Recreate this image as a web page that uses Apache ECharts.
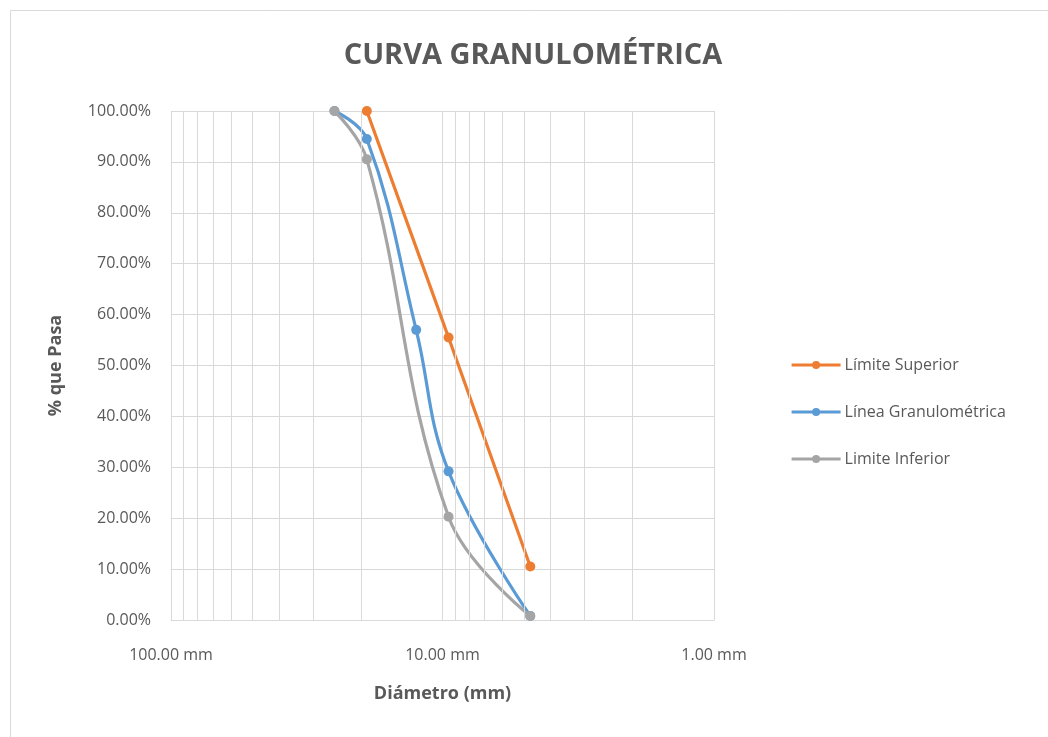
<!DOCTYPE html>
<html><head><meta charset="utf-8">
<script src="https://cdn.jsdelivr.net/npm/echarts@6/dist/echarts.min.js"></script>
<style>html,body{margin:0;padding:0;background:#fff}#c{width:1048px;height:737px}</style>
</head><body><div id="c"></div>
<script>
const FONT = '"Liberation Sans Narrow","Open Sans",sans-serif';
const titleText = 'CURVA GRANULOMÉTRICA';
const xName = 'Diámetro (mm)';
const yName = '% que Pasa';
const seriesNames = ['Límite Superior', 'Línea Granulométrica', 'Limite Inferior'];
const superiorSizes = [19, 9.5, 4.75];
const superiorPct = [100, 55.5, 10.5];
const lineaSizes = [25, 19, 12.5, 9.5, 4.75];
const lineaPct = [100, 94.5, 57, 29.2, 0.8];
const inferiorSizes = [25, 19, 9.5, 4.75];
const inferiorPct = [100, 90.5, 20.3, 0.8];
const minorGridValues = [90, 80, 70, 60, 50, 40, 30, 20, 9, 8, 7, 6, 5, 4, 3, 2];
const colors = ['#ED7D31', '#5B9BD5', '#A5A5A5'];

const zip = (xs, ys) => xs.map((x, i) => [x, ys[i]]);
const GRID = '#d9d9d9';
const TXT = '#595959';

const mkSeries = (name, data, color, withMinor) => {
  const s = {
    name, type: 'line', data, smooth: 0.4,
    symbol: 'circle', symbolSize: 10,
    itemStyle: { color },
    lineStyle: { color, width: 3.2 },
    z: 3
  };
  if (withMinor) {
    s.markLine = {
      silent: true, symbol: 'none', label: { show: false },
      lineStyle: { color: GRID, width: 1, type: 'solid' },
      emphasis: { disabled: true },
      animation: false,
      data: minorGridValues.map(v => ({ xAxis: v }))
    };
  }
  return s;
};

const chart = echarts.init(document.getElementById('c'));
chart.setOption({
  animation: false,
  backgroundColor: '#fff',
  title: {
    text: titleText, left: 528, top: 36, textAlign: 'center',
    textStyle: { fontFamily: FONT, fontWeight: 'bold', fontSize: 29, color: TXT }
  },
  legend: {
    orient: 'vertical', left: 785, top: 352,
    itemWidth: 49, itemHeight: 10, itemGap: 31,
    lineStyle: { width: 3.2 },
    textStyle: { fontFamily: FONT, fontSize: 16, color: TXT, padding: [0, 0, 0, -1] },
    data: seriesNames
  },
  grid: { left: 171, right: 1048 - 714, top: 111, bottom: 737 - 620 },
  xAxis: {
    type: 'log', logBase: 10, min: 1, max: 100, inverse: true,
    name: xName, nameLocation: 'middle', nameGap: 65,
    nameTextStyle: { fontFamily: FONT, fontWeight: 'bold', fontSize: 18, color: TXT },
    axisLine: { show: true, lineStyle: { color: GRID, width: 1 } },
    axisTick: { show: false },
    splitLine: { show: true, lineStyle: { color: GRID, width: 1 } },
    axisLabel: {
      margin: 27, fontFamily: FONT, fontSize: 16, color: TXT,
      formatter: v => v.toFixed(2) + ' mm'
    }
  },
  yAxis: {
    type: 'value', min: 0, max: 100, interval: 10,
    name: yName, nameLocation: 'middle', nameGap: 106,
    nameTextStyle: { fontFamily: FONT, fontWeight: 'bold', fontSize: 18, color: TXT },
    axisLine: { show: false },
    axisTick: { show: false },
    splitLine: { show: true, lineStyle: { color: GRID, width: 1 } },
    axisLabel: {
      margin: 20, fontFamily: FONT, fontSize: 16, color: TXT,
      formatter: v => v.toFixed(2) + '%'
    }
  },
  graphic: [{
    type: 'rect', shape: { x: 10.5, y: 10.5, width: 1100, height: 800 },
    style: { fill: 'none', stroke: '#d9d9d9', lineWidth: 1 }, silent: true, z: -1
  }],
  series: [
    mkSeries(seriesNames[0], zip(superiorSizes, superiorPct), colors[0], true),
    mkSeries(seriesNames[1], zip(lineaSizes, lineaPct), colors[1], false),
    mkSeries(seriesNames[2], zip(inferiorSizes, inferiorPct), colors[2], false)
  ]
});
</script></body></html>
